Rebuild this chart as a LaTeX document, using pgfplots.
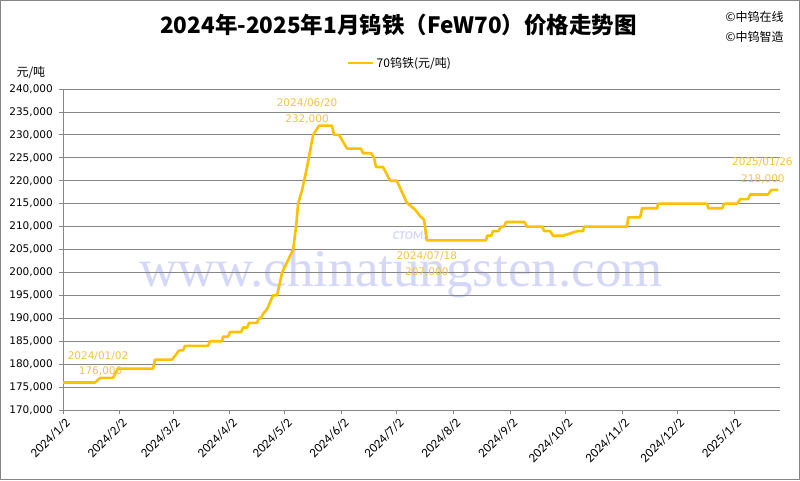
\documentclass[border=0pt]{standalone}
\usepackage{fontspec}
\setmainfont{Carlito}
\newfontfamily\cjk{Noto Sans CJK SC}
\newfontfamily\dejavu{DejaVu Sans}
\newfontfamily\wmfont{Liberation Serif}
\usepackage{pgfplots}
\pgfplotsset{compat=1.18}

\definecolor{frame}{RGB}{134,134,134}
\definecolor{gold}{RGB}{255,192,0}
\definecolor{anno}{RGB}{242,194,66}
\definecolor{wmark}{RGB}{212,215,248}

\begin{document}
\begin{tikzpicture}
% outer frame (800 x 480)
\draw[frame, line width=1pt] (0.5pt,0.5pt) rectangle (799.5pt,479.5pt);

% watermark
\node[anchor=base, text=wmark, font=\wmfont\fontsize{53}{60}\selectfont] at (401pt,194pt) {www.chinatungsten.com};
\node[text=wmark, font=\bfseries\itshape\fontsize{12}{14}\selectfont] at (411pt,244pt) {CTOMS};

\begin{axis}[
    at={(63pt,70pt)}, anchor=south west,
    scale only axis, width=717pt, height=321pt,
    xmin=0, xmax=391, ymin=170000, ymax=240000,
    ytick={170000,175000,...,240000},
    scaled y ticks=false,
    /pgf/number format/.cd, fixed, 1000 sep={,}, assume math mode=true,
    /pgfplots/.cd,
    xtick={0,31,60,91,121,152,182,213,244,274,305,335,366},
    xticklabels={2024/1/2,2024/2/2,2024/3/2,2024/4/2,2024/5/2,2024/6/2,2024/7/2,2024/8/2,2024/9/2,2024/10/2,2024/11/2,2024/12/2,2025/1/2},
    xticklabel style={rotate=45, anchor=north east, font=\fontsize{13}{15}\selectfont, inner sep=1pt, yshift=-2pt},
    yticklabel style={font=\dejavu\fontsize{10.5}{12}\selectfont, inner sep=2pt, xshift=-4pt},
    axis x line*=bottom, axis y line*=left,
    axis line style={frame, line width=0.8pt, -},
    tick style={frame, line width=0.8pt},
    tick align=outside, major tick length=4pt,
    ymajorgrids, grid style={frame, line width=0.8pt},
    clip=false,
    legend style={at={(0.47,1.081)}, anchor=center, draw=none, fill=none,
        font=\cjk\fontsize{12}{14}\selectfont, inner sep=1pt},
    legend image code/.code={\draw[#1] (0pt,0pt) -- (25pt,0pt);},
]
\addplot[gold, line width=2.6pt, line join=round] coordinates {
(0,176000) (17.5,176000) (20.2,177000) (27.3,177000) (28.5,178000) (30,179000)
(49.1,179000) (50.2,181000) (59.5,181000) (63.3,183000) (65.5,183000) (66.5,184000)
(79.1,184000) (80.2,185000) (86.7,185000) (87.3,186000) (90,186000) (91.1,187000)
(97.1,187000) (98.2,188000) (100.4,188000) (101.5,189000) (105.8,189000) (106.9,190000)
(108,190000) (109.1,191000) (111.3,192000) (114.5,195000) (116.7,195000) (117.3,196000)
(119.5,200000) (125.5,205000) (127.1,210000) (128.2,215000) (130.4,218000) (131.5,220000)
(133.1,223000) (136.4,230000) (139.6,232000) (146.7,232000) (147.8,230000) (150.5,230000)
(154.9,227000) (162.5,227000) (163.6,226000) (168,226000) (169.6,225000) (170.7,223000)
(174.5,223000) (178.4,220000) (182,220000) (187.5,215200) (190.2,214300) (192,213700)
(194.7,212300) (196.9,211500) (198.4,207000) (230.7,207000) (231.3,208000) (233.5,208000)
(234.5,209000) (237.3,209000) (238.9,210000) (240.5,210000) (241.6,211000) (251.5,211000)
(253.1,210000) (261.3,210000) (262.4,209000) (265.6,209000) (267.3,208000) (272.7,208000)
(280.4,209000) (283.6,209000) (284.2,210000) (307.6,210000) (308.2,212000) (314.7,212000)
(315.8,214000) (324,214000) (324.5,215000) (351.3,215000) (351.8,214000) (359.5,214000)
(360.5,215000) (367.6,215000) (369.3,216000) (373.6,216000) (374.7,217000) (384.5,217000)
(386.2,218000) (390,218000)
};
\addlegendentry{70钨铁(元/吨)}

\node[text=anno, font=\dejavu\fontsize{10.5}{12}\selectfont] at (axis cs:19.1,181670) {2024/01/02};
\node[text=anno, font=\dejavu\fontsize{10.5}{12}\selectfont] at (axis cs:20.5,178400) {176,000};
\node[text=anno, font=\dejavu\fontsize{10.5}{12}\selectfont] at (axis cs:133.1,236940) {2024/06/20};
\node[text=anno, font=\dejavu\fontsize{10.5}{12}\selectfont] at (axis cs:133.1,233450) {232,000};
\node[text=anno, font=\dejavu\fontsize{10.5}{12}\selectfont] at (axis cs:198.4,203470) {2024/07/18};
\node[text=anno, font=\dejavu\fontsize{10.5}{12}\selectfont] at (axis cs:198.4,200090) {207,000};
\node[text=anno, font=\dejavu\fontsize{10.5}{12}\selectfont] at (axis cs:381.4,223970) {2025/01/26};
\node[text=anno, font=\dejavu\fontsize{10.5}{12}\selectfont] at (axis cs:381.7,220370) {218,000};
\end{axis}

% title and side texts
\node[font=\cjk\bfseries\fontsize{22.5}{26}\selectfont] at (398.5pt,455pt) {2024年-2025年1月钨铁（FeW70）价格走势图};
\node[anchor=west, font=\cjk\fontsize{12}{14}\selectfont] at (722pt,463pt) {©中钨在线};
\node[anchor=west, font=\cjk\fontsize{12}{14}\selectfont] at (722pt,443pt) {©中钨智造};
\node[anchor=west, font=\cjk\fontsize{12}{14}\selectfont] at (13pt,407pt) {元/吨};
\end{tikzpicture}
\end{document}
